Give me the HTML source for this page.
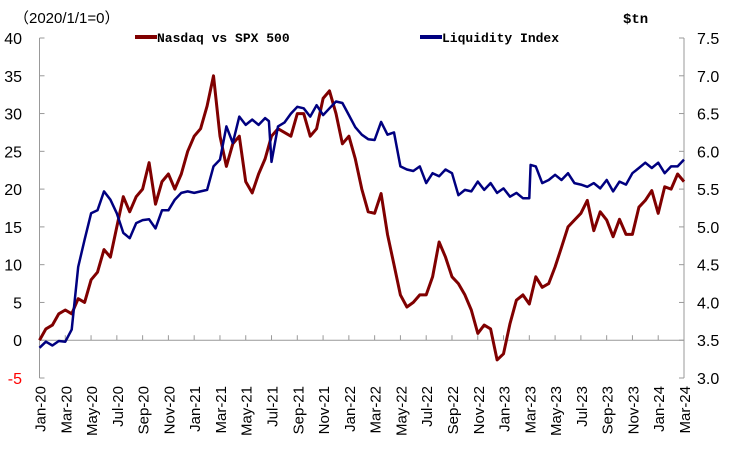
<!DOCTYPE html>
<html><head><meta charset="utf-8"><style>
body{margin:0;background:#fff;}
svg{display:block;font-family:"Liberation Sans","Noto Sans CJK SC",sans-serif;}
</style></head><body>
<svg id="chart" width="738" height="453" viewBox="0 0 738 453">
<text x="14" y="23" font-size="15" fill="#000">（2020/1/1=0）</text>
<text x="623" y="23" font-size="14" font-family="Liberation Mono,monospace" font-weight="bold" fill="#000">$tn</text>
<g>
<line x1="135" y1="37" x2="157" y2="37" stroke="#800000" stroke-width="4"/>
<text x="157" y="42" font-size="13" font-family="Liberation Mono,monospace" font-weight="bold">Nasdaq vs SPX 500</text>
<line x1="420" y1="37" x2="442" y2="37" stroke="#000080" stroke-width="4"/>
<text x="442" y="42" font-size="13" font-family="Liberation Mono,monospace" font-weight="bold">Liquidity Index</text>
</g>
<g id="axes"></g>
<g id="series"></g>
</svg>
<script>
const xTickLabels=["Jan-20","Mar-20","May-20","Jul-20","Sep-20","Nov-20","Jan-21","Mar-21","May-21","Jul-21","Sep-21","Nov-21","Jan-22","Mar-22","May-22","Jul-22","Sep-22","Nov-22","Jan-23","Mar-23","May-23","Jul-23","Sep-23","Nov-23","Jan-24","Mar-24"];
const leftTicks=[40,35,30,25,20,15,10,5,0,-5];
const rightTicks=["7.5","7.0","6.5","6.0","5.5","5.0","4.5","4.0","3.5","3.0"];
const nasdaqMonths=[0,0.5,1,1.5,2,2.5,3,3.5,4,4.5,5,5.5,6,6.5,7,7.5,8,8.5,9,9.5,10,10.5,11,11.5,12,12.5,13,13.5,14,14.5,15,15.5,16,16.5,17,17.5,18,18.5,19,19.5,20,20.5,21,21.5,22,22.5,23,23.5,24,24.5,25,25.5,26,26.5,27,27.5,28,28.5,29,29.5,30,30.5,31,31.5,32,32.5,33,33.5,34,34.5,35,35.5,36,36.5,37,37.5,38,38.5,39,39.5,40,40.5,41,41.5,42,42.5,43,43.5,44,44.5,45,45.5,46,46.5,47,47.5,48,48.5,49,49.5,50];
const nasdaqValues=[0,1.5,2,3.5,4,3.5,5.5,5,8,9,12,11,15,19,17,19,20,23.5,18,21,22,20,22,25,27,28,31,35,27,23,26,27,21,19.5,22,24,27,28,27.5,27,30,30,27,28,32,33,30,26,27,24,20,17,16.8,19.4,14,10,6,4.4,5,6,6,8.4,13,11,8.4,7.5,6,4,0.9,2,1.5,-2.6,-1.8,2.2,5.3,6,4.8,8.4,7,7.5,9.7,12.3,15,15.9,16.8,18.5,14.5,17,15.9,13.7,16,14,14,17.6,18.5,19.8,16.8,20.3,20,22,21];
const liquidityMonths=[0,0.5,1,1.5,2,2.5,3,3.5,4,4.5,5,5.5,6,6.5,7,7.5,8,8.5,9,9.5,10,10.5,11,11.5,12,12.5,13,13.5,14,14.5,15,15.5,16,16.5,17,17.5,17.8,18,18.5,19,19.5,20,20.5,21,21.5,22,22.5,23,23.5,24,24.5,25,25.5,26,26.5,27,27.5,28,28.5,29,29.5,30,30.5,31,31.5,32,32.5,33,33.5,34,34.5,35,35.5,36,36.5,37,37.5,38,38.1,38.5,39,39.5,40,40.5,41,41.5,42,42.5,43,43.5,44,44.5,45,45.5,46,46.5,47,47.5,48,48.5,49,49.5,50];
const liquidityValues=[3.4,3.48,3.43,3.49,3.48,3.64,4.47,4.83,5.18,5.22,5.47,5.36,5.18,4.92,4.85,5.05,5.09,5.1,4.98,5.22,5.22,5.36,5.45,5.47,5.45,5.47,5.49,5.8,5.89,6.33,6.11,6.46,6.35,6.42,6.35,6.44,6.4,5.86,6.33,6.38,6.5,6.59,6.57,6.46,6.61,6.48,6.57,6.66,6.64,6.48,6.32,6.22,6.16,6.15,6.39,6.22,6.25,5.8,5.76,5.74,5.8,5.58,5.71,5.67,5.76,5.71,5.42,5.49,5.47,5.6,5.49,5.58,5.45,5.51,5.4,5.45,5.38,5.38,5.82,5.8,5.58,5.62,5.69,5.62,5.71,5.58,5.56,5.53,5.58,5.51,5.62,5.47,5.6,5.56,5.71,5.78,5.85,5.78,5.85,5.71,5.8,5.8,5.89];

const NS="http://www.w3.org/2000/svg";
const X0=39.5,X1=684,TOP=38,BOT=378;
const xScale=m=>X0+(X1-X0)*m/50;
const yLeft=v=>BOT-(v+5)*(BOT-TOP)/45;
const yRight=v=>BOT-(v-3)*(BOT-TOP)/4.5;
function mk(tag,attrs,parent){const e=document.createElementNS(NS,tag);for(const k in attrs)e.setAttribute(k,attrs[k]);parent.appendChild(e);return e;}
const axes=document.getElementById('axes');
let e=mk('line',{x1:X0,y1:TOP,x2:X0,y2:BOT,stroke:'#999','stroke-width':1},axes);


e=mk('line',{x1:X1,y1:TOP,x2:X1,y2:BOT,stroke:'#999','stroke-width':1},axes);


e=mk('line',{x1:X0,y1:yLeft(0),x2:X1,y2:yLeft(0),stroke:'#999','stroke-width':1},axes);


leftTicks.forEach(v=>{
  const y=yLeft(v);
  mk('line',{x1:X0,y1:y,x2:X0+5,y2:y,stroke:'#999'},axes);
  const t=mk('text',{x:22,y:y+6,'font-size':16,'text-anchor':'end',fill:v<0?'#ff0000':'#000'},axes);
  t.textContent=v;
  
  
});
rightTicks.forEach(s=>{
  const y=yRight(parseFloat(s));
  mk('line',{x1:X1-5,y1:y,x2:X1,y2:y,stroke:'#999'},axes);
  const t=mk('text',{x:697,y:y+6,'font-size':16,fill:'#000'},axes);
  t.textContent=s;
  
  
});
xTickLabels.forEach((s,i)=>{
  const x=xScale(i*2),y0=yLeft(0);
  mk('line',{x1:x,y1:y0,x2:x,y2:y0-5,stroke:'#999'},axes);
  const t=mk('text',{x:0,y:0,'font-size':15,'text-anchor':'end',transform:`translate(${x+6},386) rotate(-90)`},axes);
  t.textContent=s;
  
  
});
const ser=document.getElementById('series');
let d=nasdaqMonths.map((m,i)=>(i?'L':'M')+xScale(m).toFixed(1)+','+yLeft(nasdaqValues[i]).toFixed(1)).join('');
e=mk('path',{d:d,fill:'none',stroke:'#800000','stroke-width':3,'stroke-linejoin':'round'},ser);


d=liquidityMonths.map((m,i)=>(i?'L':'M')+xScale(m).toFixed(1)+','+yRight(liquidityValues[i]).toFixed(1)).join('');
e=mk('path',{d:d,fill:'none',stroke:'#000080','stroke-width':2.5,'stroke-linejoin':'round'},ser);


</script>
</body></html>
